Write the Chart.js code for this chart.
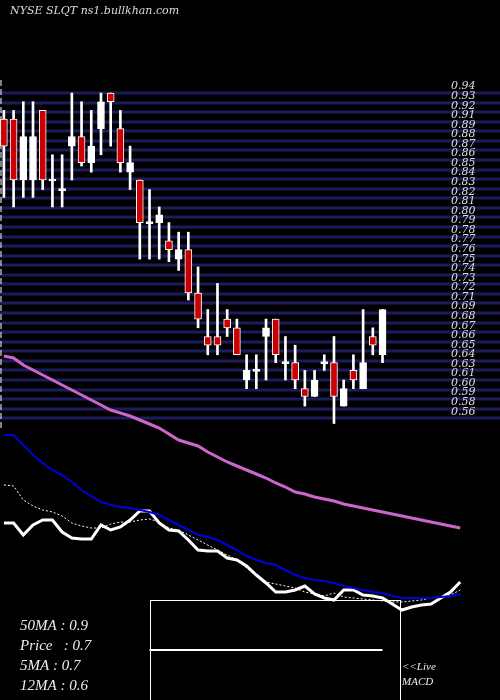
<!DOCTYPE html>
<html>
<head>
<meta charset="utf-8">
<script src="https://cdn.jsdelivr.net/npm/chart.js@4.4.1/dist/chart.umd.min.js"></script>
<style>
  html, body { margin: 0; padding: 0; background: #000; }
  #wrap { width: 500px; height: 700px; position: relative; }
</style>
</head>
<body>
<div id="wrap"><canvas id="c"></canvas></div>
<script>
// ---- DATA ----
const opens  = [0.904,0.904,0.834,0.834,0.914,0.834,0.823,0.873,0.884,0.854,0.893,0.934,0.893,0.843,0.834,0.785,0.785,0.764,0.743,0.754,
                0.704,0.654,0.654,0.674,0.664,0.604,0.615,0.654,0.674,0.624,0.624,0.594,0.585,0.624,0.624,0.574,0.615,0.594,0.654,0.633];
const highs  = [0.914,0.914,0.924,0.924,0.914,0.863,0.863,0.934,0.924,0.914,0.934,0.934,0.914,0.873,0.834,0.823,0.803,0.785,0.774,0.774,
                0.734,0.685,0.715,0.685,0.674,0.633,0.633,0.674,0.674,0.654,0.644,0.615,0.615,0.633,0.654,0.604,0.633,0.685,0.664,0.685];
const lows   = [0.814,0.803,0.814,0.814,0.823,0.803,0.803,0.834,0.850,0.843,0.863,0.873,0.843,0.823,0.743,0.743,0.743,0.740,0.730,0.696,
                0.664,0.633,0.633,0.654,0.633,0.594,0.594,0.604,0.624,0.604,0.594,0.574,0.585,0.615,0.554,0.574,0.594,0.594,0.633,0.624];
const closes = [0.873,0.834,0.884,0.884,0.834,0.834,0.823,0.884,0.854,0.873,0.924,0.924,0.854,0.854,0.785,0.785,0.794,0.754,0.754,0.704,
                0.674,0.644,0.644,0.664,0.633,0.615,0.615,0.664,0.633,0.624,0.604,0.585,0.604,0.624,0.585,0.594,0.604,0.624,0.644,0.685];

// price grid levels and their labels (right side)
const gridLevels = [0.934,0.923,0.912,0.901,0.890,0.879,0.868,0.857,0.846,0.835,0.824,0.813,0.802,0.791,0.780,0.769,0.758,0.747,
                    0.736,0.725,0.714,0.703,0.692,0.681,0.670,0.659,0.648,0.637,0.626,0.615,0.604,0.593,0.582,0.571,0.560];
const gridLabels = ["0.94","0.93","0.92","0.91","0.89","0.88","0.87","0.86","0.85","0.84","0.83","0.82","0.81","0.80","0.79","0.78","0.77","0.76",
                    "0.75","0.74","0.73","0.72","0.71","0.69","0.68","0.67","0.66","0.65","0.64","0.63","0.61","0.60","0.59","0.58","0.56"];

// indicator panel levels (abstract indicator scale, 0 = top, 700 = bottom)
const ma50  = [356,358,365,370,375,380,385,390,395,400,405,410,413,416,420,424,428,434,440,443,446,452,457,462,466,470,474,478,483,487,492,494,497,499,501,504,506,508,510,512,514,516,518,520,522,524,526,528];
const ma12  = [435,435,445,455,463,470,475,482,490,496,502,505,507,508,510,512,515,520,525,530,535,537,540,545,550,556,560,563,565,570,575,578,580,581,583,586,588,590,592,593,596,598,598,598,598,597,596,594];
const ma5   = [523,523,535,525,520,520,532,538,539,539,525,530,527,520,511,511,523,530,531,540,550,551,551,558,560,566,575,583,592,592,590,586,594,598,600,590,590,595,596,598,604,610,607,605,604,598,592,582];
const maDot = [485,486,500,506,510,512,516,523,526,528,528,524,522,522,520,519,522,528,530,535,540,545,550,555,560,568,576,582,584,586,588,592,594,596,593,597,598,599,600,601,602,602,601,600,598,597,595,590];
const macdLine = [null,null,null,null,null,null,null,null,null,null,null,null,null,null,null,650,650,650,650,650,650,650,650,650,650,650,650,650,650,650,650,650,650,650,650,650,650,650,650,650];

const infoLines = ["50MA : 0.9", "Price   : 0.7", "5MA : 0.7", "12MA : 0.6"];

const RED = "#cc0000";
const idx = opens.map((_, i) => i);
const isDoji = idx.map(i => Math.abs(opens[i] - closes[i]) < 0.002);

const wickData = idx.map(i => ({ x: i, y: [lows[i], highs[i]] }));
const bodyData = idx.map(i => ({ x: i, y: isDoji[i] ? [opens[i] - 0.0012, opens[i] + 0.0012] : [opens[i], closes[i]] }));
const bodyColors = idx.map(i => isDoji[i] ? "#fff" : (closes[i] < opens[i] ? RED : "#fff"));
const pts = arr => arr.map((v, i) => ({ x: i, y: v }));

const bgAndGrid = {
  id: "bgAndGrid",
  beforeDraw(chart) {
    const ctx = chart.ctx;
    ctx.save();
    ctx.fillStyle = "#000";
    ctx.fillRect(0, 0, chart.width, chart.height);
    const y = chart.scales.y;
    ctx.strokeStyle = "#1c1c5c";
    ctx.lineWidth = 3;
    gridLevels.forEach(v => {
      const py = Math.round(y.getPixelForValue(v));
      ctx.beginPath(); ctx.moveTo(0, py); ctx.lineTo(500, py); ctx.stroke();
    });
    ctx.fillStyle = "#ddd";
    ctx.font = "italic 11px 'DejaVu Serif', serif";
    ctx.textBaseline = "bottom";
    gridLabels.forEach((t, i) => {
      ctx.fillText(t, 451, y.getPixelForValue(gridLevels[i]) - 1);
    });
    // dashed left edge
    ctx.strokeStyle = "#fff"; ctx.lineWidth = 1; ctx.setLineDash([6, 3]);
    ctx.beginPath(); ctx.moveTo(1, 80); ctx.lineTo(1, 430); ctx.stroke();
    ctx.restore();
  },
  afterDraw(chart) {
    const ctx = chart.ctx;
    ctx.save();
    ctx.fillStyle = "#ddd";
    ctx.font = "italic 11px 'DejaVu Serif', serif";
    ctx.textBaseline = "alphabetic";
    ctx.fillText("NYSE SLQT ns1.bullkhan.com", 10, 14);
    ctx.strokeStyle = "#fff"; ctx.lineWidth = 1;
    ctx.strokeRect(150.5, 600.5, 250, 100);
    ctx.font = "italic 15px 'Liberation Serif', serif";
    ctx.fillStyle = "#eee";
    infoLines.forEach((t, i) => ctx.fillText(t, 20, 630 + i * 20));
    ctx.font = "italic 11px 'Liberation Serif', serif";
    ctx.fillText("<<Live", 402, 670);
    ctx.fillText("MACD", 402, 685);
    ctx.restore();
  }
};

new Chart(document.getElementById("c"), {
  type: "bar",
  data: {
    datasets: [
      { type: "line", data: pts(ma50), yAxisID: "y2", borderColor: "#cc66cc", borderWidth: 3, pointRadius: 0, order: 1 },
      { type: "line", data: pts(ma12), yAxisID: "y2", borderColor: "#0000dd", borderWidth: 2, pointRadius: 0, order: 1 },
      { type: "line", data: pts(maDot), yAxisID: "y2", borderColor: "#fff", borderWidth: 1, borderDash: [2, 2], pointRadius: 0, order: 1 },
      { type: "line", data: pts(ma5), yAxisID: "y2", borderColor: "#fff", borderWidth: 3, pointRadius: 0, order: 1 },
      { type: "line", data: pts(macdLine), yAxisID: "y2", borderColor: "#fff", borderWidth: 2, pointRadius: 0, order: 1 },
      { data: wickData, backgroundColor: "#fff", barThickness: 2, grouped: false, order: 3 },
      { data: bodyData, backgroundColor: bodyColors, borderColor: "#fff", borderWidth: 1, borderSkipped: false,
        barThickness: idx.map(i => isDoji[i] ? 7 : 7), grouped: false, order: 2 }
    ]
  },
  options: {
    responsive: true,
    maintainAspectRatio: false,
    animation: false,
    layout: { padding: 0 },
    plugins: { legend: { display: false }, tooltip: { enabled: false } },
    scales: {
      x: { type: "linear", min: -0.4, max: 51.1, display: false, offset: false },
      y: { min: 0.236, max: 1.041, display: false },
      y2: { min: 0, max: 700, reverse: true, display: false }
    }
  },
  plugins: [bgAndGrid]
});
</script>
</body>
</html>
